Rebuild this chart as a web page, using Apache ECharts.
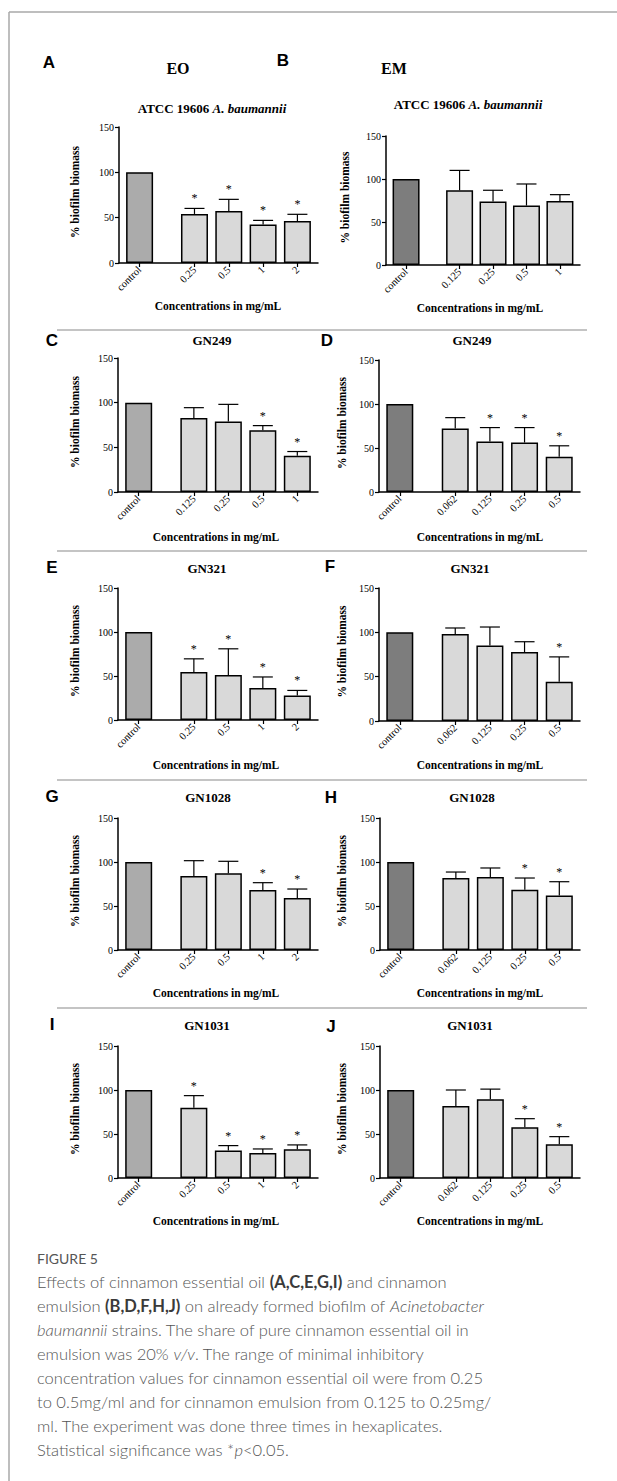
<!DOCTYPE html>
<html><head><meta charset="utf-8">
<script src="https://cdn.jsdelivr.net/npm/echarts/dist/echarts.min.js"></script>
<style>html,body{margin:0;padding:0;background:#fff;} #c{width:617px;height:1481px;}</style>
</head><body><div id="c"></div>
<script>
// ---------------- DATA ----------------
const catsEO_A = ['control','0.25','0.5','1','2'];
const catsEM_B = ['control','0.125','0.25','0.5','1'];
const catsEO_C = ['control','0.125','0.25','0.5','1'];
const catsEM   = ['control','0.062','0.125','0.25','0.5'];
const catsEO   = ['control','0.25','0.5','1','2'];

const meanA = [100, 54.1, 57.3, 42.6, 46.3];
const errA  = [0, 6.1, 12.9, 4.4, 7.4];
const sigA  = [0, 1, 1, 1, 1];

const meanB = [100, 86.9, 73.7, 69.1, 74.5];
const errB  = [0, 23.1, 13.2, 25.1, 7.3];
const sigB  = [0, 0, 0, 0, 0];

const meanC = [100, 82.7, 78.9, 69.0, 40.6];
const errC  = [0, 11.7, 19.2, 5.3, 4.7];
const sigC  = [0, 0, 0, 1, 1];

const meanD = [100, 72.1, 57.4, 56.2, 40.0];
const errD  = [0, 12.4, 15.8, 17.0, 12.5];
const sigD  = [0, 0, 1, 1, 1];

const meanE = [100, 54.6, 51.1, 36.3, 27.9];
const errE  = [0, 14.9, 29.8, 12.6, 5.7];
const sigE  = [0, 1, 1, 1, 1];

const meanF = [100, 98.1, 85.2, 77.7, 44.3];
const errF  = [0, 6.8, 20.8, 11.7, 28.0];
const sigF  = [0, 0, 0, 0, 1];

const meanG = [100, 84.1, 87.1, 68.2, 59.1];
const errG  = [0, 17.4, 13.7, 8.3, 10.2];
const sigG  = [0, 0, 0, 1, 1];

const meanH = [100, 81.8, 83.0, 68.6, 61.8];
const errH  = [0, 6.8, 10.2, 13.2, 15.8];
const sigH  = [0, 0, 0, 1, 1];

const meanI = [100, 79.9, 31.2, 28.5, 32.7];
const errI  = [0, 13.7, 5.6, 4.5, 4.9];
const sigI  = [0, 1, 1, 1, 1];

const meanJ = [100, 81.8, 89.4, 57.6, 38.3];
const errJ  = [0, 18.2, 11.6, 9.8, 8.7];
const sigJ  = [0, 0, 0, 1, 1];

const yTicks = [0, 50, 100, 150];
const titleATCC = 'ATCC 19606 ';
const titleATCCit = 'A. baumannii';
const strainTitles = ['GN249', 'GN321', 'GN1028', 'GN1031'];
const yName = '% biofilm biomass';
const xName = 'Concentrations in mg/mL';

// ---------------- LAYOUT ----------------
const SERIF = '"Liberation Serif","Times New Roman",serif';
const SANS = '"Liberation Sans",Arial,sans-serif';
const CAP = 'Lato,"Open Sans",sans-serif';
const COL_EO = '#ababab', COL_EM = '#7d7d7d', COL_T = '#d9d9d9';
const NSLOT = 30;
function slotOf(i){ return i === 0 ? 3 : 6 + 5 * i; }

const panels = [
 {L:'A', cats:catsEO_A, mean:meanA, err:errA, sig:sigA, ctrl:COL_EO, title:null, l:119, r:318, t:127, b:263, tx:212, ty:108, xnx:218, xny:306, ynx:75, lx:49, ly:62},
 {L:'B', cats:catsEM_B, mean:meanB, err:errB, sig:sigB, ctrl:COL_EM, title:null, l:386, r:580, t:136, b:265, tx:468, ty:104, xnx:480, xny:308, ynx:345, lx:283, ly:60},
 {L:'C', cats:catsEO_C, mean:meanC, err:errC, sig:sigC, ctrl:COL_EO, title:strainTitles[0], l:118, r:318, t:358, b:492, tx:212, ty:340, xnx:216, xny:537, ynx:75, lx:52, ly:340},
 {L:'D', cats:catsEM, mean:meanD, err:errD, sig:sigD, ctrl:COL_EM, title:strainTitles[0], l:379, r:580, t:360, b:492, tx:472, ty:340, xnx:480, xny:537, ynx:342, lx:327, ly:340},
 {L:'E', cats:catsEO, mean:meanE, err:errE, sig:sigE, ctrl:COL_EO, title:strainTitles[1], l:118, r:318, t:588, b:720, tx:207, ty:568, xnx:216, xny:765, ynx:75, lx:52, ly:567},
 {L:'F', cats:catsEM, mean:meanF, err:errF, sig:sigF, ctrl:COL_EM, title:strainTitles[1], l:379, r:580, t:588, b:721, tx:470, ty:568, xnx:480, xny:765, ynx:342, lx:330, ly:566},
 {L:'G', cats:catsEO, mean:meanG, err:errG, sig:sigG, ctrl:COL_EO, title:strainTitles[2], l:118, r:318, t:818, b:950, tx:208, ty:797, xnx:216, xny:993, ynx:75, lx:52, ly:796},
 {L:'H', cats:catsEM, mean:meanH, err:errH, sig:sigH, ctrl:COL_EM, title:strainTitles[2], l:380, r:580, t:818, b:950, tx:472, ty:797, xnx:480, xny:993, ynx:342, lx:331, ly:797},
 {L:'I', cats:catsEO, mean:meanI, err:errI, sig:sigI, ctrl:COL_EO, title:strainTitles[3], l:118, r:318, t:1046, b:1178, tx:207, ty:1025, xnx:216, xny:1221, ynx:75, lx:52, ly:1024},
 {L:'J', cats:catsEM, mean:meanJ, err:errJ, sig:sigJ, ctrl:COL_EM, title:strainTitles[3], l:380, r:580, t:1046, b:1178, tx:470, ty:1025, xnx:480, xny:1221, ynx:342, lx:331, ly:1026}
];

const grids = [], xAxes = [], yAxes = [], series = [], graphics = [];
const showFn = (idx, val) => val !== '';

panels.forEach((p, gi) => {
  grids.push({left:p.l, top:p.t, width:p.r - p.l, height:p.b - p.t});
  const axisData = new Array(NSLOT).fill('');
  const barData = new Array(NSLOT).fill('-');
  const errData = [];
  p.cats.forEach((c, i) => {
    const s = slotOf(i);
    axisData[s] = c;
    barData[s] = {value:p.mean[i], itemStyle:{color: i === 0 ? p.ctrl : COL_T}};
    errData.push([s, p.mean[i], p.err[i], p.sig[i]]);
  });
  xAxes.push({
    gridIndex:gi, type:'category', boundaryGap:false, data:axisData,
    axisLine:{lineStyle:{color:'#000', width:1.5}},
    axisTick:{interval:showFn, length:4, lineStyle:{color:'#000', width:1.2}},
    axisLabel:{interval:showFn, rotate:45, margin:5, fontSize:10.5, fontFamily:SERIF, color:'#000'},
    splitLine:{show:false}
  });
  yAxes.push({
    gridIndex:gi, type:'value', min:yTicks[0], max:yTicks[yTicks.length-1], interval:yTicks[1]-yTicks[0],
    axisLine:{show:true, lineStyle:{color:'#000', width:1.5}},
    axisTick:{show:true, length:4, lineStyle:{color:'#000', width:1.2}},
    axisLabel:{margin:5, fontSize:10, fontFamily:SERIF, color:'#000'},
    splitLine:{show:false}
  });
  series.push({
    type:'bar', xAxisIndex:gi, yAxisIndex:gi, data:barData, barWidth:27,
    itemStyle:{borderColor:'#000', borderWidth:1.5}, silent:true, animation:false
  });
  series.push({
    type:'custom', xAxisIndex:gi, yAxisIndex:gi, data:errData, animation:false, silent:true, z:5,
    itemStyle:{color:'#000'},
    renderItem:function(params, api){
      const x = api.value(0), m = api.value(1), e = api.value(2), s = api.value(3);
      const p0 = api.coord([x, m]), p1 = api.coord([x, m + e]);
      const ch = [];
      if (e > 0) {
        ch.push({type:'line', shape:{x1:p0[0], y1:p0[1], x2:p1[0], y2:p1[1]}, style:{stroke:'#000', lineWidth:1.2}});
        ch.push({type:'line', shape:{x1:p1[0]-10, y1:p1[1], x2:p1[0]+10, y2:p1[1]}, style:{stroke:'#000', lineWidth:1.2}});
      }
      if (s) {
        ch.push({type:'text', style:{text:'*', x:p1[0], y:p1[1]-10, align:'center', verticalAlign:'middle', fontSize:12, fontFamily:SERIF, fill:'#000', textFill:'#000'}});
      }
      return {type:'group', children:ch};
    }
  });

  // titles
  if (p.title === null) {
    graphics.push({type:'text', style:{x:p.tx, y:p.ty, text:'{n|' + titleATCC + '}{i|' + titleATCCit + '}', align:'center', verticalAlign:'middle',
      rich:{n:{fontSize:13, fontWeight:'bold', fontFamily:SERIF, fill:'#000'}, i:{fontSize:13, fontWeight:'bold', fontStyle:'italic', fontFamily:SERIF, fill:'#000'}}}});
  } else {
    graphics.push({type:'text', style:{x:p.tx, y:p.ty, text:p.title, align:'center', verticalAlign:'middle', fontSize:13, fontWeight:'bold', fontFamily:SERIF, fill:'#000'}});
  }
  // axis names
  graphics.push({type:'text', style:{x:p.xnx, y:p.xny, text:xName, align:'center', verticalAlign:'middle', fontSize:11.5, fontWeight:'bold', fontFamily:SERIF, fill:'#000'}});
  graphics.push({type:'text', x:p.ynx, y:(p.t + p.b)/2 - 3, rotation:Math.PI/2, style:{x:0, y:0, text:yName, align:'center', verticalAlign:'middle', fontSize:11.5, fontWeight:'bold', fontFamily:SERIF, fill:'#000'}});
  // panel letter
  graphics.push({type:'text', style:{x:p.lx, y:p.ly, text:p.L, align:'center', verticalAlign:'middle', fontSize:17, fontWeight:'bold', fontFamily:SANS, fill:'#000'}});
});

// column headers
graphics.push({type:'text', style:{x:178, y:68, text:'EO', align:'center', verticalAlign:'middle', fontSize:16, fontWeight:'bold', fontFamily:SERIF, fill:'#000'}});
graphics.push({type:'text', style:{x:394, y:68, text:'EM', align:'center', verticalAlign:'middle', fontSize:16, fontWeight:'bold', fontFamily:SERIF, fill:'#000'}});

// separators
[330, 551, 780, 1008].forEach(y => {
  graphics.push({type:'line', shape:{x1:57, y1:y, x2:587, y2:y}, style:{stroke:'#8a8a8a', lineWidth:1.2}});
});
// frame
graphics.push({type:'line', shape:{x1:9, y1:12, x2:617, y2:12}, style:{stroke:'#a8a8a8', lineWidth:1.5}});
graphics.push({type:'line', shape:{x1:9, y1:12, x2:9, y2:1481}, style:{stroke:'#a8a8a8', lineWidth:1.5}});

// caption
const capLines = [
  'Effects of cinnamon essential oil {b|(A,C,E,G,I)} and cinnamon',
  'emulsion {b|(B,D,F,H,J)} on already formed biofilm of {i|Acinetobacter}',
  '{i|baumannii} strains. The share of pure cinnamon essential oil in',
  'emulsion was 20% {i|v/v}. The range of minimal inhibitory',
  'concentration values for cinnamon essential oil were from 0.25',
  'to 0.5mg/ml and for cinnamon emulsion from 0.125 to 0.25mg/',
  'ml. The experiment was done three times in hexaplicates.',
  'Statistical significance was *{i|p}<0.05.'
];
const capColor = '#555';
graphics.push({type:'text', style:{x:37, y:1258, text:'FIGURE 5', align:'left', verticalAlign:'middle', fontSize:14, fontFamily:CAP, fill:capColor}});
capLines.forEach((ln, i) => {
  graphics.push({type:'text', style:{x:37, y:1282 + 24*i, text:ln, align:'left', verticalAlign:'middle', fontSize:16.5, fontWeight:300, fontFamily:CAP, fill:capColor,
    rich:{b:{fontSize:16.5, fontWeight:'bold', fontFamily:CAP, fill:'#3a3a3a'}, i:{fontSize:16.5, fontStyle:'italic', fontWeight:300, fontFamily:CAP, fill:capColor}}}});
});

const chart = echarts.init(document.getElementById('c'), null, {renderer:'svg', width:617, height:1481});
chart.setOption({
  animation:false, backgroundColor:'#fff',
  grid:grids, xAxis:xAxes, yAxis:yAxes, series:series, graphic:graphics
});
</script></body></html>
